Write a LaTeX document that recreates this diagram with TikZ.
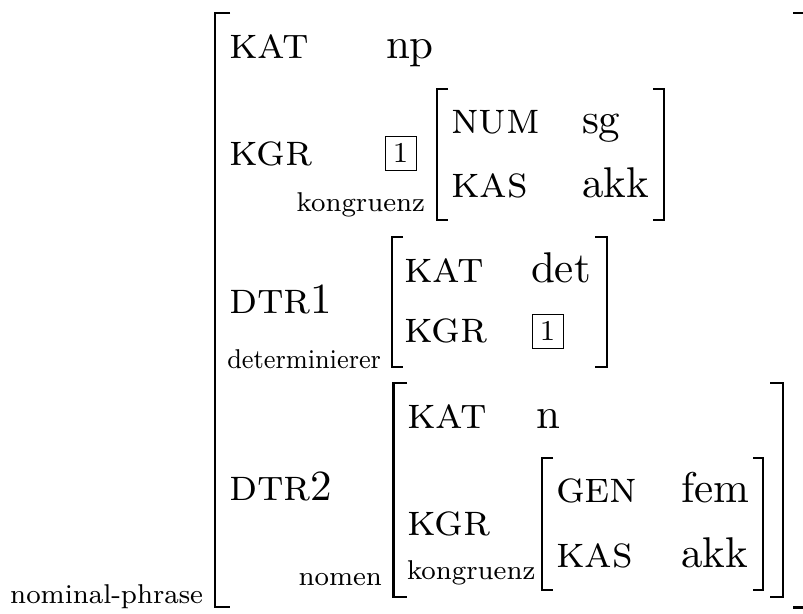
\documentclass[tikz,border=0pt]{standalone}
\usepackage{graphicx}
% attribute names, atomic values and sort labels of the feature structure
\newcommand\AttrName[1]{\scalebox{4.5}{\textsc{#1}}}
\newcommand\AttrVal[1]{\scalebox{4.3}{#1}}
\newcommand\SortName[1]{\scalebox{3.4}{\footnotesize #1}}
\newcommand\SortNameTight[1]{\scalebox{3.1}[3.4]{\footnotesize #1}}
\newcommand\TagNum[1]{\scalebox{3.6}{\footnotesize #1}}
\tikzset{
  lbl/.style={inner sep=0pt, outer sep=0pt, anchor=base west},
  sortlbl/.style={inner sep=0pt, outer sep=0pt, anchor=base east},
  brk/.style={line width=2.4pt, line cap=butt, line join=miter},
  tagbox/.style={draw, line width=1pt, minimum width=31pt, minimum height=34pt, inner sep=0pt},
}
\begin{document}
\begin{tikzpicture}[x=1pt, y=-1pt]
\useasboundingbox (0,0) rectangle (803,613);

% ---- brackets: (x, top, bottom, hook) ----
% outer structure
\draw[brk] (230,13) -- (215,13) -- (215,607) -- (230,607);
\draw[brk] (793,13) -- (803.8,13) -- (803.8,607.5) -- (793,607.5);
% KGR value
\draw[brk] (448,89) -- (437,89) -- (437,220) -- (448,220);
\draw[brk] (653,89) -- (664,89) -- (664,220) -- (653,220);
% DTR1 value
\draw[brk] (403,237) -- (392,237) -- (392,367) -- (403,367);
\draw[brk] (595,237) -- (607,237) -- (607,367) -- (595,367);
% DTR2 value
\draw[brk] (407,383) -- (393.5,383) -- (393.5,597) -- (407,597);
\draw[brk] (770,383) -- (783,383) -- (783,597) -- (770,597);
% DTR2 KGR value
\draw[brk] (553,458) -- (542,458) -- (542,590) -- (553,590);
\draw[brk] (753,458) -- (763,458) -- (763,590) -- (753,590);

% ---- outer level ----
\node[lbl] (kat) at (229,58) {\AttrName{kat}};
\node[lbl] (np) at (386,58) {\AttrVal{np}};
\node[lbl] (kgr) at (229,165) {\AttrName{kgr}};
\node[tagbox] (tagA) at (400.5,153) {\TagNum{1}};
\node[sortlbl] (kongA) at (425,211) {\SortName{kongruenz}};
\node[lbl] (dtrA) at (229,313) {\AttrName{dtr}\AttrVal{1}};
\node[sortlbl] (detsort) at (381,368) {\SortNameTight{determinierer}};
\node[lbl] (dtrB) at (229,500) {\AttrName{dtr}\AttrVal{2}};
\node[sortlbl] (nomsort) at (382,585) {\SortName{nomen}};
\node[sortlbl] (npsort) at (203,603) {\SortName{nominal-phrase}};

% ---- KGR value ----
\node[lbl] (num) at (451,133) {\AttrName{num}};
\node[lbl] (sg) at (582,133) {\AttrVal{sg}};
\node[lbl] (kasA) at (451,197) {\AttrName{kas}};
\node[lbl] (akkA) at (582,197) {\AttrVal{akk}};

% ---- DTR1 value ----
\node[lbl] (katB) at (404,282) {\AttrName{kat}};
\node[lbl] (det) at (531,282) {\AttrVal{det}};
\node[lbl] (kgrB) at (404,342) {\AttrName{kgr}};
\node[tagbox] (tagB) at (547.5,331) {\TagNum{1}};

% ---- DTR2 value ----
\node[lbl] (katC) at (407,428) {\AttrName{kat}};
\node[lbl] (nval) at (536,428) {\AttrVal{n}};
\node[lbl] (kgrC) at (407,535) {\AttrName{kgr}};
\node[lbl] (kongB) at (407,579) {\SortName{kongruenz}};
\node[lbl] (gen) at (556,502) {\AttrName{gen}};
\node[lbl] (fem) at (681,502) {\AttrVal{fem}};
\node[lbl] (kasB) at (556,567) {\AttrName{kas}};
\node[lbl] (akkB) at (681,567) {\AttrVal{akk}};
\end{tikzpicture}
\end{document}
